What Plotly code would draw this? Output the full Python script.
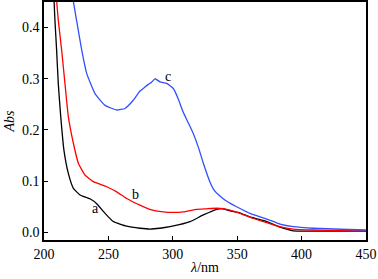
import plotly.graph_objects as go

# Curve a (black)
a_x = [206.5, 207.8, 208.5, 209.8, 211.1, 213, 215.5, 218.9, 222.8, 228, 233, 236, 240.9, 247.4, 253.8,
       264.2, 274.5, 282.3, 290, 297.8, 305, 313.4, 323.7, 334.1, 339, 344.4, 352, 359.9, 366, 372.9,
       383.2, 393.6, 404, 420, 450]
a_y = [0.55, 0.453, 0.414, 0.356, 0.29, 0.226, 0.160, 0.115, 0.086, 0.073, 0.068, 0.065, 0.056, 0.037, 0.021,
       0.012, 0.008, 0.0064, 0.008, 0.011, 0.015, 0.021, 0.034, 0.045, 0.046, 0.042, 0.038, 0.030, 0.026, 0.021,
       0.010, 0.003, 0.0025, 0.0025, 0.0025]

# Curve b (red)
b_x = [208.5, 209.8, 211.1, 213.7, 216.3, 218.9, 222.8, 226.7, 231.8, 238.3, 248.7, 256.4, 264.2, 274.5,
       282, 292.6, 300, 308.1, 318.6, 326, 334.1, 344.4, 352.2, 362.5, 372.9, 383.2, 393.6, 409.2, 430, 450]
b_y = [0.50, 0.453, 0.414, 0.356, 0.29, 0.226, 0.174, 0.135, 0.112, 0.099, 0.089, 0.079, 0.066, 0.053,
       0.045, 0.040, 0.039, 0.040, 0.045, 0.046, 0.047, 0.0435, 0.037, 0.027, 0.019, 0.011, 0.0064, 0.0045, 0.0035, 0.003]

# Curve c (blue)
c_x = [221, 222.7, 225.3, 229.3, 233.2, 239.6, 247.4, 256.4, 262.9, 269.3, 274.5, 277.1, 281, 283.5,
       286.2, 290.1, 295.3, 300.4, 304, 308.2, 312, 315.9, 320, 323.7, 328.9, 332.5, 336.6, 341, 345,
       349.6, 359.9, 372.9, 383.2, 393.6, 409.2, 429.8, 450]
c_y = [0.50, 0.453, 0.414, 0.356, 0.31, 0.271, 0.248, 0.239, 0.242, 0.258, 0.276, 0.281, 0.289, 0.293,
       0.30, 0.294, 0.291, 0.281, 0.262, 0.234, 0.214, 0.193, 0.165, 0.135, 0.098, 0.081, 0.071, 0.062, 0.056,
       0.050, 0.037, 0.026, 0.016, 0.011, 0.008, 0.006, 0.0045]

labels = ["a", "b", "c"]
label_x = [239.6, 271.4, 296.5]
label_y = [0.046, 0.073, 0.304]

x_ticks = [200, 250, 300, 350, 400, 450]
y_ticks = [0.0, 0.1, 0.2, 0.3, 0.4]

FONT = "Liberation Serif"

fig = go.Figure()
for xs, ys, col in [(a_x, a_y, "#000000"), (b_x, b_y, "#ff0000"), (c_x, c_y, "#3050ff")]:
    fig.add_trace(go.Scatter(x=xs, y=ys, mode="lines",
                             line=dict(color=col, width=1.3, shape="spline", smoothing=0.4),
                             showlegend=False, hoverinfo="skip"))

for t, lx, ly in zip(labels, label_x, label_y):
    fig.add_annotation(x=lx, y=ly, text=t, showarrow=False,
                       font=dict(family=FONT, size=14, color="black"))

axis_common = dict(showline=True, linecolor="black", linewidth=1.5, mirror=True,
                   ticks="inside", ticklen=4, tickwidth=1.3, tickcolor="black",
                   showgrid=False, zeroline=False, automargin=False,
                   tickfont=dict(family=FONT, size=14, color="black"))

fig.update_xaxes(range=[200, 450], tickvals=x_ticks, ticktext=[str(v) for v in x_ticks],
                 title=dict(text="<i>λ</i>/nm", font=dict(family=FONT, size=14, color="black"), standoff=2),
                 **axis_common)
fig.update_yaxes(range=[-0.015, 0.45], tickvals=y_ticks, ticktext=[f"{v:.1f}" for v in y_ticks],
                 title=dict(text="<i>Abs</i>", font=dict(family=FONT, size=14, color="black"), standoff=4),
                 **axis_common)

fig.update_layout(width=378, height=279,
                  margin=dict(l=44, r=12, t=2, b=39),
                  plot_bgcolor="white", paper_bgcolor="white")

fig.write_html("out.html", config={"displayModeBar": False},
               post_script="document.body.style.margin='0';document.body.style.padding='0';document.body.style.overflow='hidden';")
